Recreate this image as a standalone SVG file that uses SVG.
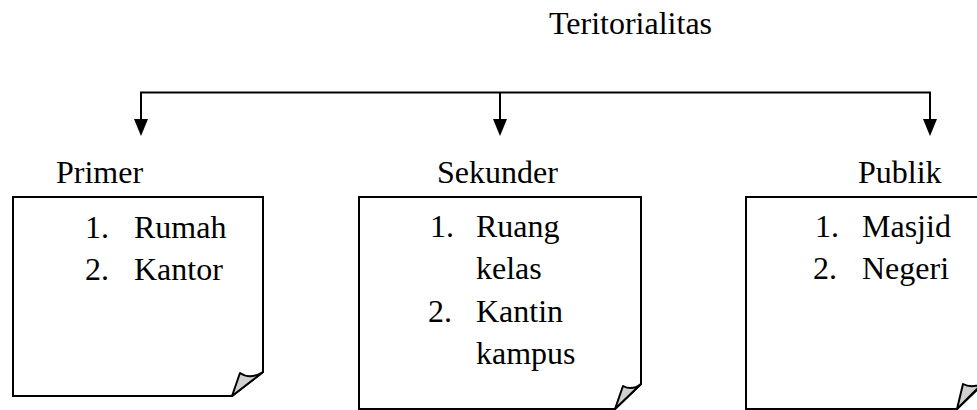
<svg xmlns="http://www.w3.org/2000/svg" width="977" height="410" viewBox="0 0 977 410">
<style>
text { font-family: "Liberation Serif", "Times New Roman", serif; font-size: 32px; fill: #000; }
.box { fill: #fff; stroke: #000; stroke-width: 2; stroke-linejoin: miter; }
.curl { fill: #d0d0d0; stroke: #000; stroke-width: 2; stroke-linejoin: round; }
.conn { fill: none; stroke: #000; stroke-width: 2; }
.head { fill: #000; }
</style>
<g id="title">
<text x="549" y="34">Teritorialitas</text>
</g>
<g id="connectors">
<path class="conn" d="M141,120 V92.5 H930 V120 M500,92.5 V120"/>
<polygon class="head" points="134,119 148,119 141,136"/>
<polygon class="head" points="493,119 507,119 500,136"/>
<polygon class="head" points="923,119 937,119 930,136"/>
</g>
<g id="primer">
<text x="56" y="183">Primer</text>
<path class="box" d="M13,197 H263 V372 L232,396 H13 Z"/>
<path class="curl" d="M232,396 L240,373 Q250,380 263,372 Z"/>
<text x="85" y="238">1.</text>
<text x="134" y="238">Rumah</text>
<text x="85" y="280">2.</text>
<text x="134" y="280">Kantor</text>
</g>
<g id="sekunder">
<text x="437" y="183">Sekunder</text>
<path class="box" d="M359,197 H641 V384 L615,409 H359 Z"/>
<path class="curl" d="M615,409 L623,386 Q632,391 641,384 Z"/>
<text x="430" y="237">1.</text>
<text x="476" y="237">Ruang</text>
<text x="476" y="279">kelas</text>
<text x="428" y="322">2.</text>
<text x="476" y="322">Kantin</text>
<text x="476" y="364">kampus</text>
</g>
<g id="publik">
<text x="858" y="183">Publik</text>
<path class="box" d="M746,197 H983 V384 L957,409 H746 Z"/>
<path class="curl" d="M957,409 L963,384 Q972,389 983,383 Z"/>
<text x="815" y="237">1.</text>
<text x="862" y="237">Masjid</text>
<text x="813" y="279">2.</text>
<text x="862" y="279">Negeri</text>
</g>
</svg>
